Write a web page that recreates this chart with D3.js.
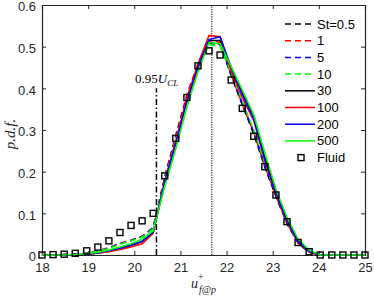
<!DOCTYPE html>
<html>
<head>
<meta charset="utf-8">
<script src="https://cdn.jsdelivr.net/npm/d3@7"></script>
<style>
  body { margin: 0; background: #fff; }
  svg { display: block; }
  .tick text { font-family: "Liberation Sans", Arial, sans-serif; font-size: 13px; fill: #262626; }
</style>
</head>
<body>
<div id="chart"></div>
<script>
// bin centres of u+ (x axis)
var xBins = [18.00, 18.24, 18.48, 18.72, 18.97, 19.21, 19.45, 19.69, 19.93, 20.17,
             20.41, 20.66, 20.90, 21.14, 21.38, 21.62, 21.86, 22.10, 22.34, 22.59,
             22.83, 23.07, 23.31, 23.55, 23.79, 24.03, 24.28, 24.52, 24.76, 25.00];

var st05  = [0, 0, 0.001, 0.002, 0.004, 0.009, 0.017, 0.027, 0.035, 0.044, 0.066, 0.185, 0.285, 0.380, 0.455, 0.508, 0.505, 0.430, 0.360, 0.290, 0.210, 0.140, 0.075, 0.028, 0.006, 0, 0, 0, 0, 0];
var st1   = [0, 0, 0.001, 0.002, 0.004, 0.010, 0.018, 0.028, 0.036, 0.045, 0.066, 0.188, 0.288, 0.385, 0.460, 0.515, 0.510, 0.432, 0.362, 0.293, 0.213, 0.142, 0.077, 0.029, 0.007, 0, 0, 0, 0, 0];
var st5   = [0, 0, 0.001, 0.002, 0.004, 0.009, 0.017, 0.027, 0.035, 0.044, 0.065, 0.186, 0.284, 0.380, 0.455, 0.510, 0.505, 0.435, 0.365, 0.296, 0.216, 0.144, 0.078, 0.030, 0.007, 0, 0, 0, 0, 0];
var st10  = [0, 0, 0.001, 0.002, 0.004, 0.009, 0.016, 0.026, 0.034, 0.043, 0.063, 0.180, 0.278, 0.372, 0.448, 0.505, 0.500, 0.438, 0.370, 0.300, 0.220, 0.147, 0.080, 0.031, 0.008, 0, 0, 0, 0, 0];
var st30  = [0, 0, 0, 0.001, 0.002, 0.005, 0.010, 0.016, 0.023, 0.032, 0.055, 0.175, 0.270, 0.370, 0.450, 0.515, 0.515, 0.450, 0.390, 0.335, 0.235, 0.150, 0.085, 0.035, 0.010, 0, 0, 0, 0, 0];
var st100 = [0, 0, 0, 0.001, 0.002, 0.004, 0.008, 0.013, 0.019, 0.027, 0.052, 0.178, 0.275, 0.378, 0.458, 0.527, 0.524, 0.442, 0.378, 0.322, 0.226, 0.145, 0.080, 0.030, 0.008, 0, 0, 0, 0, 0];
var st200 = [0, 0, 0, 0.001, 0.002, 0.005, 0.010, 0.016, 0.024, 0.033, 0.055, 0.174, 0.268, 0.368, 0.450, 0.517, 0.524, 0.450, 0.386, 0.326, 0.230, 0.148, 0.083, 0.032, 0.009, 0, 0, 0, 0, 0];
var st500 = [0, 0, 0, 0.001, 0.003, 0.006, 0.012, 0.019, 0.027, 0.038, 0.058, 0.165, 0.255, 0.355, 0.440, 0.510, 0.507, 0.452, 0.396, 0.336, 0.245, 0.158, 0.090, 0.038, 0.012, 0, 0, 0, 0, 0];
var fluid = [0, 0.001, 0.002, 0.004, 0.010, 0.019, 0.034, 0.054, 0.071, 0.082, 0.100, 0.190, 0.280, 0.378, 0.454, 0.490, 0.480, 0.420, 0.352, 0.285, 0.212, 0.144, 0.080, 0.030, 0.008, 0, 0, 0, 0, 0];

var seriesNames  = ["St=0.5", "1", "5", "10", "30", "100", "200", "500"];
var seriesValues = [st05, st1, st5, st10, st30, st100, st200, st500];
var seriesColors = ["#000000", "#ff0000", "#0000ff", "#00ff00", "#000000", "#ff0000", "#0000ff", "#00ff00"];
var seriesDashed = [true, true, true, true, false, false, false, false];

var xTicks = [18, 19, 20, 21, 22, 23, 24, 25];
var yTicks = [0, 0.1, 0.2, 0.3, 0.4, 0.5, 0.6];
var ucl95 = 20.48;   // 0.95 U_CL marker
var uclLine = 21.68; // dotted line (U_CL)

var width = 374, height = 296;
var margin = {top: 5, right: 9, bottom: 41, left: 42};

var svg = d3.select("#chart").append("svg")
    .attr("width", width)
    .attr("height", height);

var x = d3.scaleLinear().domain([18, 25]).range([margin.left, width - margin.right]);
var y = d3.scaleLinear().domain([0, 0.6]).range([height - margin.bottom, margin.top]);

// axes, ticks pointing inward, box all round
svg.append("g")
    .attr("transform", `translate(0,${height - margin.bottom})`)
    .call(d3.axisBottom(x).tickValues(xTicks).tickSize(-4).tickPadding(8).tickFormat(d3.format("d")));
svg.append("g")
    .attr("transform", `translate(0,${margin.top})`)
    .call(d3.axisTop(x).tickValues(xTicks).tickSize(-4).tickFormat(""));
var yAxis = svg.append("g")
    .attr("transform", `translate(${margin.left},0)`)
    .call(d3.axisLeft(y).tickValues(yTicks).tickSize(-4).tickPadding(6).tickFormat(function (d) { return d === 0 ? "0" : d3.format(".1f")(d); }));
yAxis.selectAll(".tick text").attr("dy", "0.45em");
svg.append("g")
    .attr("transform", `translate(${width - margin.right},0)`)
    .call(d3.axisRight(y).tickValues(yTicks).tickSize(-4).tickFormat(""));
svg.selectAll(".domain").attr("stroke", "#262626").attr("stroke-width", 1.2);
svg.selectAll(".tick line").attr("stroke", "#262626");

// vertical reference lines
svg.append("line")
    .attr("x1", x(ucl95)).attr("x2", x(ucl95))
    .attr("y1", y(0)).attr("y2", y(0.4))
    .attr("stroke", "#000").attr("stroke-width", 1.5)
    .attr("stroke-dasharray", "6,2.5,1.5,2.5");
svg.append("line")
    .attr("x1", x(uclLine)).attr("x2", x(uclLine))
    .attr("y1", y(0)).attr("y2", y(0.6))
    .attr("stroke", "#000").attr("stroke-width", 1)
    .attr("stroke-dasharray", "1.2,1.2");

var line = d3.line()
    .x(function (d, i) { return x(xBins[i]); })
    .y(function (d) { return y(d); });

var plot = svg.append("g");
seriesValues.forEach(function (vals, k) {
  plot.append("path")
      .datum(vals)
      .attr("fill", "none")
      .attr("stroke", seriesColors[k])
      .attr("stroke-width", 1.5)
      .attr("stroke-dasharray", seriesDashed[k] ? "6,4" : null)
      .attr("d", line);
});

plot.selectAll("rect.fluid")
    .data(fluid)
    .enter().append("rect")
    .attr("class", "fluid")
    .attr("x", function (d, i) { return x(xBins[i]) - 3; })
    .attr("y", function (d) { return y(d) - 3; })
    .attr("width", 6).attr("height", 6)
    .attr("fill", "none")
    .attr("stroke", "#000")
    .attr("stroke-width", 1.4);

// legend
var legend = svg.append("g").attr("transform", "translate(285,24)");
seriesNames.forEach(function (name, k) {
  var g = legend.append("g").attr("transform", `translate(0,${k * 16.7})`);
  g.append("line")
      .attr("x1", 0).attr("x2", 30)
      .attr("stroke", seriesColors[k])
      .attr("stroke-width", 1.5)
      .attr("stroke-dasharray", seriesDashed[k] ? "6,4" : null);
  g.append("text")
      .attr("x", 32).attr("y", 4.5)
      .attr("font-family", "Liberation Sans, Arial, sans-serif")
      .attr("font-size", 13)
      .text(name);
});
var lf = legend.append("g").attr("transform", `translate(0,${8 * 16.7})`);
lf.append("rect")
    .attr("x", 13).attr("y", -3).attr("width", 6).attr("height", 6)
    .attr("fill", "none").attr("stroke", "#000").attr("stroke-width", 1.4);
lf.append("text")
    .attr("x", 32).attr("y", 4.5)
    .attr("font-family", "Liberation Sans, Arial, sans-serif")
    .attr("font-size", 13)
    .text("Fluid");

// 0.95 U_CL annotation
var ann = svg.append("text")
    .attr("x", 135).attr("y", 83)
    .attr("font-family", "Liberation Serif, Times New Roman, serif")
    .attr("font-size", 13);
ann.append("tspan").text("0.95");
ann.append("tspan").attr("font-style", "italic").text("U");
ann.append("tspan").attr("font-style", "italic").attr("font-size", 9).attr("dy", 3).text("CL");

// axis labels
var xl = svg.append("text")
    .attr("x", 191).attr("y", 288)
    .attr("font-family", "Liberation Serif, Times New Roman, serif")
    .attr("font-size", 14)
    .attr("font-style", "italic")
    .attr("fill", "#262626");
xl.append("tspan").text("u");
xl.append("tspan").attr("font-size", 10).attr("font-style", "normal").attr("dy", -8).attr("dx", 0).text("+");
xl.append("tspan").attr("font-size", 10).attr("x", 199).attr("dy", 13).text("f@p");

svg.append("text")
    .attr("transform", "translate(15,134) rotate(-90)")
    .attr("text-anchor", "middle")
    .attr("font-family", "Liberation Serif, Times New Roman, serif")
    .attr("font-size", 15)
    .attr("font-style", "italic")
    .attr("fill", "#262626")
    .text("p.d.f.");
</script>
</body>
</html>
